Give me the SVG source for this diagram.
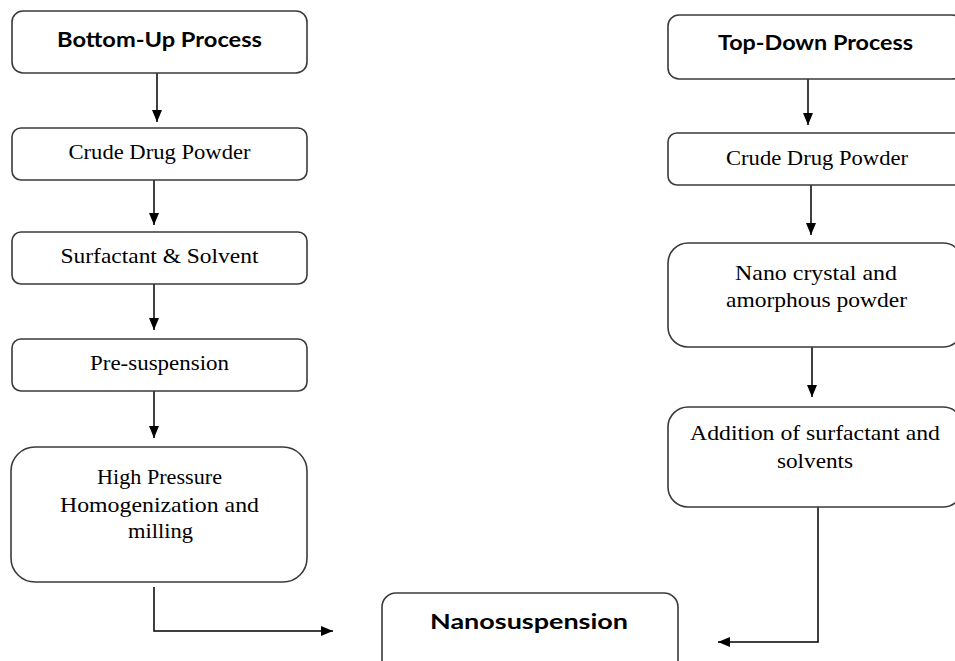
<svg xmlns="http://www.w3.org/2000/svg" width="955" height="661" viewBox="0 0 955 661">
<style>
.box{fill:#fff;stroke:#3a3a3a;stroke-width:1.6}
.ser{font-family:"Liberation Serif","Times New Roman",serif;font-size:21.5px;fill:#000;text-anchor:middle}
.bold{font-family:Lato,"Liberation Sans",Arial,sans-serif;font-weight:bold;font-size:21px;fill:#000;text-anchor:middle}
.con{fill:none;stroke:#000;stroke-width:1.5}
</style>
<defs>
<marker id="ah" markerUnits="userSpaceOnUse" markerWidth="12" markerHeight="10" refX="12" refY="5" orient="auto">
<path d="M0,0 L12,5 L0,10 z" fill="#000"/>
</marker>
</defs>
<rect width="955" height="661" fill="#fff"/>
<g id="connectors">
<line class="con" x1="157" y1="73" x2="157" y2="122" marker-end="url(#ah)"/>
<line class="con" x1="154" y1="180" x2="154" y2="225" marker-end="url(#ah)"/>
<line class="con" x1="154" y1="284" x2="154" y2="330" marker-end="url(#ah)"/>
<line class="con" x1="154" y1="391" x2="154" y2="438" marker-end="url(#ah)"/>
<polyline class="con" points="154,587 154,631 333,631" marker-end="url(#ah)"/>
<line class="con" x1="808" y1="79" x2="808" y2="125" marker-end="url(#ah)"/>
<line class="con" x1="811" y1="185" x2="811" y2="235" marker-end="url(#ah)"/>
<line class="con" x1="812" y1="347" x2="812" y2="397" marker-end="url(#ah)"/>
<polyline class="con" points="818,507 818,642 718,642" marker-end="url(#ah)"/>
</g>
<g id="bottom-up">
<rect class="box" x="12" y="11" width="295" height="62" rx="11"/>
<text class="bold" x="159.5" y="47" textLength="205" lengthAdjust="spacingAndGlyphs">Bottom-Up Process</text>
</g>
<g id="bu-crude">
<rect class="box" x="12" y="128" width="295" height="52" rx="9"/>
<text class="ser" x="159.5" y="159" textLength="182" lengthAdjust="spacingAndGlyphs">Crude Drug Powder</text>
</g>
<g id="bu-surfactant">
<rect class="box" x="12" y="232" width="295" height="52" rx="9"/>
<text class="ser" x="159.5" y="263" textLength="198" lengthAdjust="spacingAndGlyphs">Surfactant &amp; Solvent</text>
</g>
<g id="bu-presuspension">
<rect class="box" x="12" y="339" width="295" height="52" rx="9"/>
<text class="ser" x="159.5" y="370" textLength="139" lengthAdjust="spacingAndGlyphs">Pre-suspension</text>
</g>
<g id="bu-hph">
<rect class="box" x="11" y="447" width="296" height="135" rx="24"/>
<text class="ser" x="159.5" y="484" textLength="125" lengthAdjust="spacingAndGlyphs">High Pressure</text>
<text class="ser" x="159.5" y="512" textLength="199" lengthAdjust="spacingAndGlyphs">Homogenization and</text>
<text class="ser" x="160.5" y="538" textLength="65" lengthAdjust="spacingAndGlyphs">milling</text>
</g>
<g id="top-down">
<rect class="box" x="668" y="15" width="295" height="64" rx="11"/>
<text class="bold" x="815.5" y="50" textLength="195" lengthAdjust="spacingAndGlyphs">Top-Down Process</text>
</g>
<g id="td-crude">
<rect class="box" x="668" y="133" width="295" height="52" rx="9"/>
<text class="ser" x="817" y="165" textLength="182" lengthAdjust="spacingAndGlyphs">Crude Drug Powder</text>
</g>
<g id="td-nano">
<rect class="box" x="668" y="243" width="295" height="104" rx="20"/>
<text class="ser" x="816" y="280" textLength="162" lengthAdjust="spacingAndGlyphs">Nano crystal and</text>
<text class="ser" x="816.5" y="307" textLength="181" lengthAdjust="spacingAndGlyphs">amorphous powder</text>
</g>
<g id="td-addition">
<rect class="box" x="668" y="407" width="295" height="100" rx="20"/>
<text class="ser" x="815" y="440" textLength="250" lengthAdjust="spacingAndGlyphs">Addition of surfactant and</text>
<text class="ser" x="815" y="468" textLength="76" lengthAdjust="spacingAndGlyphs">solvents</text>
</g>
<g id="nanosuspension">
<rect class="box" x="382" y="593" width="296" height="90" rx="14"/>
<text class="bold" x="529" y="629" font-size="24" textLength="198" lengthAdjust="spacingAndGlyphs">Nanosuspension</text>
</g>
</svg>
